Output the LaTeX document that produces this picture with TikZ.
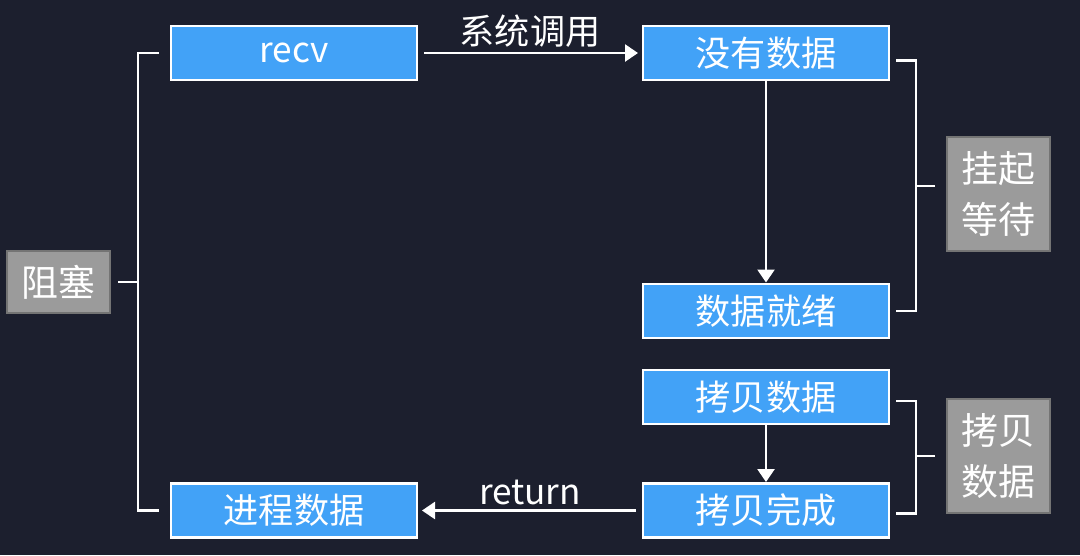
\documentclass[tikz,border=0pt]{standalone}
\usepackage{fontspec}
\setmainfont{Noto Sans CJK SC}
\usepackage{xcolor}
\usetikzlibrary{arrows.meta,positioning}
\definecolor{nightbg}{HTML}{1C1F2E}
\definecolor{callblue}{HTML}{42A2F7}
\definecolor{tagbg}{HTML}{9B9B9B}

\begin{document}
\begin{tikzpicture}[>={Triangle[width=3.4mm,length=2.6mm]}, node distance=4.52cm,
 every node/.style={text=white, align=center},
 box/.style={draw=white, line width=1.4pt, fill=callblue, minimum width=4.92cm, minimum height=1.08cm, inner sep=0pt, outer sep=0pt, font=\fontsize{20}{24}\selectfont},
 tag/.style={draw=tagbg!75!black, line width=0.6pt, fill=tagbg, minimum width=2.06cm, inner sep=0pt, outer sep=0pt, font=\fontsize{21}{29.5}\selectfont},
 brk/.style={draw=white, line width=1.4pt},
 arr/.style={draw=white, line width=1.4pt, ->},
 lbl/.style={inner sep=1pt, font=\fontsize{20}{24}\selectfont}]
\fill[nightbg] (0,0) rectangle (21.6,-11.1);
\useasboundingbox (0,0) rectangle (21.6,-11.1);
% call path
\node[box] (recv) at (5.88,-1.06) {recv};
\node[box, right=of recv] (nodata) {没有数据};
\node[box, below=4.08cm of nodata] (ready) {数据就绪};
\node[box, below=6.4mm of ready] (copy) {拷贝数据};
\node[box, below=11.9mm of copy] (done) {拷贝完成};
\node[box, left=of done] (proc) {进程数据};
% phase tags
\node[tag, minimum height=1.24cm] (block) at (1.17,-5.64) {阻塞};
\node[tag, minimum height=2.28cm] (wait) at (19.97,-3.88) {挂起\\等待};
\node[tag, minimum height=2.28cm] (copytag) at (19.97,-9.12) {拷贝\\数据};
\draw[arr, shorten <=1.4mm, shorten >=1mm] (recv) -- node[lbl, above=0.6mm]{系统调用} (nodata);
\draw[arr, shorten >=0.3mm] (nodata) -- (ready);
\draw[arr, shorten >=0.3mm] (copy) -- (done);
\draw[arr, shorten <=1.4mm, shorten >=1mm] (done) -- node[lbl, above=0.6mm]{return} (proc);
% brackets
\draw[brk] ([xshift=-2.4mm]recv.west) -- ++(-4.2mm,0) coordinate (lb) |- ([xshift=-2.4mm]proc.west);
\draw[brk] ([xshift=1.6mm]block.east) -- (block.east -| lb);
\draw[brk] ([xshift=1.4mm,yshift=-1.5mm]nodata.east) -- ++(4mm,0) coordinate (rb) |- ([xshift=1.4mm]ready.east);
\draw[brk] ([xshift=-2.4mm,yshift=1.6mm]wait.west) -- ([yshift=1.6mm]wait.west -| rb);
\draw[brk] ([xshift=1.4mm,yshift=-0.8mm]copy.east) -- ++(4mm,0) coordinate (rc) |- ([xshift=1.4mm,yshift=-0.6mm]done.east);
\draw[brk] ([xshift=-2.4mm]copytag.west) -- (copytag.west -| rc);
\end{tikzpicture}
\end{document}
